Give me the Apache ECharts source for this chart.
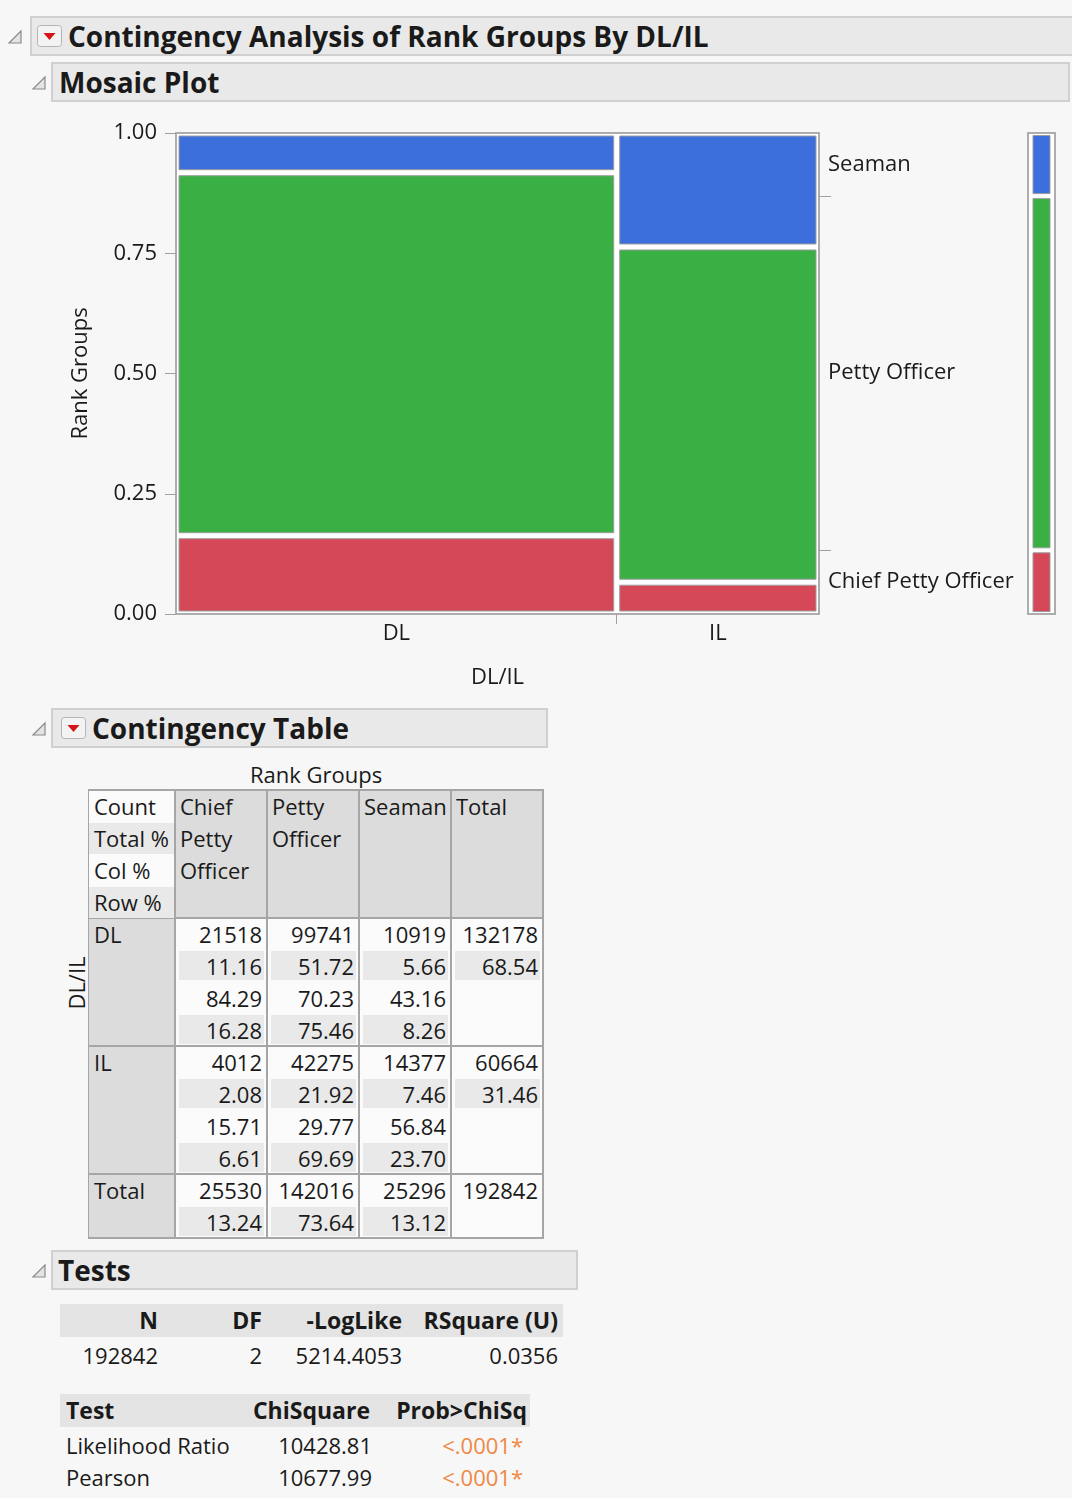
<!DOCTYPE html>
<html>
<head>
<meta charset="utf-8">
<script src="https://cdn.jsdelivr.net/npm/echarts@6/dist/echarts.min.js"></script>
<style>
  body { margin: 0; background: #f7f7f7; font-family: 'Open Sans', sans-serif; color: #1a1a1a; }
  #page { position: relative; width: 1072px; height: 1498px; overflow: hidden; background: #f7f7f7; }
  .abs { position: absolute; white-space: nowrap; box-sizing: border-box; }
  .hdr { background: #e9e9e9; border: 2px solid #d0d0d0; }
  .htxt { font-weight: 700; font-size: 28px; line-height: 40px; }
  .t { font-size: 22px; line-height: 32px; }
  .b { font-weight: 700; font-size: 23px; }
  #mosaic { position: absolute; left: 0; top: 105px; width: 1072px; height: 600px; }
</style>
</head>
<body>
<div id="page">
  <div id="mosaic"></div>
</div>
<script>
const groups = ['DL', 'IL'];
const ranks = ['Chief Petty Officer', 'Petty Officer', 'Seaman'];
const rankColors = ['#d44858', '#3ab044', '#3d6fdc'];

const dlCount = [21518, 99741, 10919, 132178];
const dlTotalPct = [11.16, 51.72, 5.66, 68.54];
const dlColPct = [84.29, 70.23, 43.16];
const dlRowPct = [16.28, 75.46, 8.26];

const ilCount = [4012, 42275, 14377, 60664];
const ilTotalPct = [2.08, 21.92, 7.46, 31.46];
const ilColPct = [15.71, 29.77, 56.84];
const ilRowPct = [6.61, 69.69, 23.70];

const totalCount = [25530, 142016, 25296, 192842];
const totalPct = [13.24, 73.64, 13.12];

const fitHead = ['N', 'DF', '-LogLike', 'RSquare (U)'];
const fitRow = ['192842', '2', '5214.4053', '0.0356'];
const testHead = ['Test', 'ChiSquare', 'Prob>ChiSq'];
const testNames = ['Likelihood Ratio', 'Pearson'];
const chiSquare = ['10428.81', '10677.99'];
const probChi = ['<.0001*', '<.0001*'];

const FONT = 'Open Sans';
const page = document.getElementById('page');

// ---- little dom helpers ----
function el(x, y, w, h, cls, html, css) {
  const d = document.createElement('div');
  d.className = 'abs ' + (cls || '');
  d.style.left = x + 'px';
  d.style.top = y + 'px';
  if (w != null) d.style.width = w + 'px';
  if (h != null) d.style.height = h + 'px';
  if (css) Object.assign(d.style, css);
  if (html != null) d.textContent = html;
  page.appendChild(d);
  return d;
}
function tri(x, y) {
  const d = el(x, y, 16, 16);
  d.innerHTML = '<svg width="16" height="16"><polygon points="14,2 14,14 2,14" fill="#e4e4e4" stroke="#8a8a8a" stroke-width="1.2"/></svg>';
}
function redBtn(x, y) {
  const d = el(x, y, 25, 22);
  d.innerHTML = '<svg width="25" height="22"><rect x="0.5" y="0.5" width="24" height="21" rx="3" fill="#f3f3f3" stroke="#b4b4b4"/>' +
    '<polygon points="6.5,8 18.5,8 12.5,15" fill="#d8141b"/></svg>';
}
function header(x, y, w, h, text, tx, triX, btnX) {
  el(x, y, w, h, 'hdr');
  tri(triX, y + 12);
  if (btnX != null) redBtn(btnX, y + 9);
  el(tx, y, null, h, 'htxt', text);
}

// ---- outline headers ----
header(30, 16, 1060, 40, 'Contingency Analysis of Rank Groups By DL/IL', 68, 7, 37);
header(51, 62, 1019, 40, 'Mosaic Plot', 59, 31);
header(51, 708, 497, 40, 'Contingency Table', 92, 31, 61);
header(51, 1250, 527, 40, 'Tests', 58, 31);

// ---- contingency table ----
const colX = [88, 175, 267, 359, 451, 543];
const LH = 32;
const tTop = 790;
const rowTops = [tTop, tTop + 4 * LH, tTop + 8 * LH, tTop + 12 * LH, tTop + 14 * LH];
const GREY = '#dcdcdc', STRIPE = '#e9e9e9', WHITE = '#fbfbfb';

el(colX[0], rowTops[0] - 1, colX[5] - colX[0] + 1, rowTops[4] - rowTops[0] + 2, '', null, { background: '#a6a6a6' });
el(250, 758, 132, 32, 't', 'Rank Groups', { textAlign: 'center' });
el(46, 967, 60, 32, 't', 'DL/IL', { transform: 'rotate(-90deg)', transformOrigin: '50% 50%', textAlign: 'center' });

function cell(ci, ri, bg) {
  const x = colX[ci] + 1, y = rowTops[ri] + 1;
  return el(x, y, colX[ci + 1] - colX[ci] - 2, rowTops[ri + 1] - rowTops[ri] - 2, '', null, { background: bg });
}
// header row
cell(0, 0, WHITE);
['Count', 'Total %', 'Col %', 'Row %'].forEach((s, k) => {
  if (k % 2 === 1) el(colX[0] + 1, tTop + k * LH + 1, colX[1] - colX[0] - 2, LH - 1, '', null, { background: STRIPE });
  el(colX[0] + 6, tTop + k * LH, null, LH, 't', s);
});
ranks.concat(['Total']).forEach((name, ci) => {
  cell(ci + 1, 0, GREY);
  name.split(' ').forEach((w, k) => el(colX[ci + 1] + 5, tTop + k * LH, null, LH, 't', w));
});

function bodyRow(ri, label, lines, nLines) {
  cell(0, ri, GREY);
  el(colX[0] + 6, rowTops[ri], null, LH, 't', label);
  for (let ci = 0; ci < 4; ci++) {
    cell(ci + 1, ri, WHITE);
    for (let k = 0; k < nLines; k++) {
      const y = rowTops[ri] + k * LH;
      const v = lines[k][ci];
      if (v == null) continue;
      if (k % 2 === 1) el(colX[ci + 1] + 4, y + 1, colX[ci + 2] - colX[ci + 1] - 7, LH - 3, '', null, { background: STRIPE });
      const s = k === 0 ? String(v) : v.toFixed(2);
      el(colX[ci + 1], y, colX[ci + 2] - colX[ci + 1] - 5, LH, 't', s, { textAlign: 'right' });
    }
  }
}
bodyRow(1, groups[0], [dlCount, dlTotalPct, dlColPct, dlRowPct], 4);
bodyRow(2, groups[1], [ilCount, ilTotalPct, ilColPct, ilRowPct], 4);
bodyRow(3, 'Total', [totalCount, totalPct], 2);

// ---- tests ----
el(60, 1304, 503, 33, '', null, { background: '#e4e4e4' });
const fitRight = [158, 262, 402, 558];
fitHead.forEach((s, i) => el(fitRight[i] - 200, 1304, 200, 33, 't b', s, { textAlign: 'right', lineHeight: '33px' }));
fitRow.forEach((s, i) => el(fitRight[i] - 200, 1339, 200, 32, 't', s, { textAlign: 'right' }));

el(60, 1394, 470, 33, '', null, { background: '#e4e4e4' });
el(66, 1394, null, 33, 't b', testHead[0], { lineHeight: '33px' });
el(370 - 200, 1394, 200, 33, 't b', testHead[1], { textAlign: 'right', lineHeight: '33px' });
el(527 - 200, 1394, 200, 33, 't b', testHead[2], { textAlign: 'right', lineHeight: '33px' });
testNames.forEach((s, i) => {
  const y = 1429 + i * 32;
  el(66, y, null, 32, 't', s);
  el(372 - 200, y, 200, 32, 't', chiSquare[i], { textAlign: 'right' });
  el(523 - 200, y, 200, 32, 't', probChi[i], { textAlign: 'right', color: '#ee8844' });
});

// ---- mosaic plot ----
const colWidth = [dlTotalPct[3] / 100, ilTotalPct[3] / 100];
const rowPcts = [dlRowPct, ilRowPct];
const mosaicData = [];
let xs = 0;
groups.forEach((g, gi) => {
  let ys = 0;
  ranks.forEach((r, ri) => {
    const h = rowPcts[gi][ri] / 100;
    mosaicData.push([xs, xs + colWidth[gi], ys, ys + h, ri]);
    ys += h;
  });
  xs += colWidth[gi];
});
const xLabelVals = [colWidth[0] / 2, colWidth[0] + colWidth[1] / 2];
const xTickVals = [colWidth[0]];

const marginData = [];
let ms = 0;
const rLabelVals = [], rTickVals = [];
ranks.forEach((r, ri) => {
  const h = totalPct[ri] / 100;
  marginData.push([0, 1, ms, ms + h, ri]);
  rLabelVals.push(ms + h / 2);
  ms += h;
  if (ri < ranks.length - 1) rTickVals.push(ms);
});

function rectItem(ix, iy) {
  return function (params, api) {
    const tl = api.coord([api.value(0), api.value(3)]);
    const br = api.coord([api.value(1), api.value(2)]);
    return {
      type: 'rect',
      shape: { x: tl[0] + ix, y: tl[1] + iy, width: br[0] - tl[0] - 2 * ix, height: br[1] - tl[1] - 2 * iy },
      style: { fill: rankColors[api.value(4)], stroke: '#9c9c9c', lineWidth: 1 }
    };
  };
}
function pick(vals, names) {
  return function (v) {
    const i = vals.findIndex(m => Math.abs(m - v) < 1e-6);
    return i < 0 ? '' : names[i];
  };
}

const txt = { fontFamily: FONT, fontSize: 22, color: '#1a1a1a' };
const chart = echarts.init(document.getElementById('mosaic'));
chart.setOption({
  animation: false,
  grid: [
    { left: 176, top: 28, width: 643, height: 481, show: true, backgroundColor: '#fff', borderColor: '#adadad', borderWidth: 2 },
    { left: 1028, top: 28, width: 27, height: 481, show: true, backgroundColor: '#fff', borderColor: '#adadad', borderWidth: 2 }
  ],
  xAxis: [
    {
      type: 'value', gridIndex: 0, min: 0, max: 1,
      splitLine: { show: false }, axisLine: { show: false },
      axisTick: { show: true, customValues: xTickVals, length: 10, lineStyle: { color: '#a0a0a0' } },
      axisLabel: Object.assign({ customValues: xLabelVals, formatter: pick(xLabelVals, groups), margin: 9 }, txt),
      name: 'DL/IL', nameLocation: 'middle', nameGap: 53, nameTextStyle: txt
    },
    { type: 'value', gridIndex: 1, min: 0, max: 1, show: false }
  ],
  yAxis: [
    {
      type: 'value', gridIndex: 0, min: 0, max: 1, interval: 0.25,
      splitLine: { show: false }, axisLine: { show: false },
      axisTick: { show: true, length: 11, lineStyle: { color: '#a0a0a0' } },
      axisLabel: Object.assign({ formatter: v => v.toFixed(2), margin: 19 }, txt),
      name: 'Rank Groups', nameLocation: 'middle', nameGap: 84, nameTextStyle: txt
    },
    {
      type: 'value', gridIndex: 0, position: 'right', min: 0, max: 1,
      splitLine: { show: false }, axisLine: { show: false },
      axisTick: { show: true, customValues: rTickVals, length: 12, lineStyle: { color: '#a0a0a0' } },
      axisLabel: Object.assign({ customValues: rLabelVals, formatter: pick(rLabelVals, ranks), margin: 9 }, txt)
    },
    { type: 'value', gridIndex: 1, min: 0, max: 1, show: false }
  ],
  series: [
    {
      type: 'custom', xAxisIndex: 0, yAxisIndex: 0,
      renderItem: rectItem(3, 3),
      encode: { x: [0, 1], y: [2, 3] },
      data: mosaicData
    },
    {
      type: 'custom', xAxisIndex: 1, yAxisIndex: 2,
      renderItem: rectItem(5, 2.5),
      encode: { x: [0, 1], y: [2, 3] },
      data: marginData
    }
  ]
});
</script>
</body>
</html>
